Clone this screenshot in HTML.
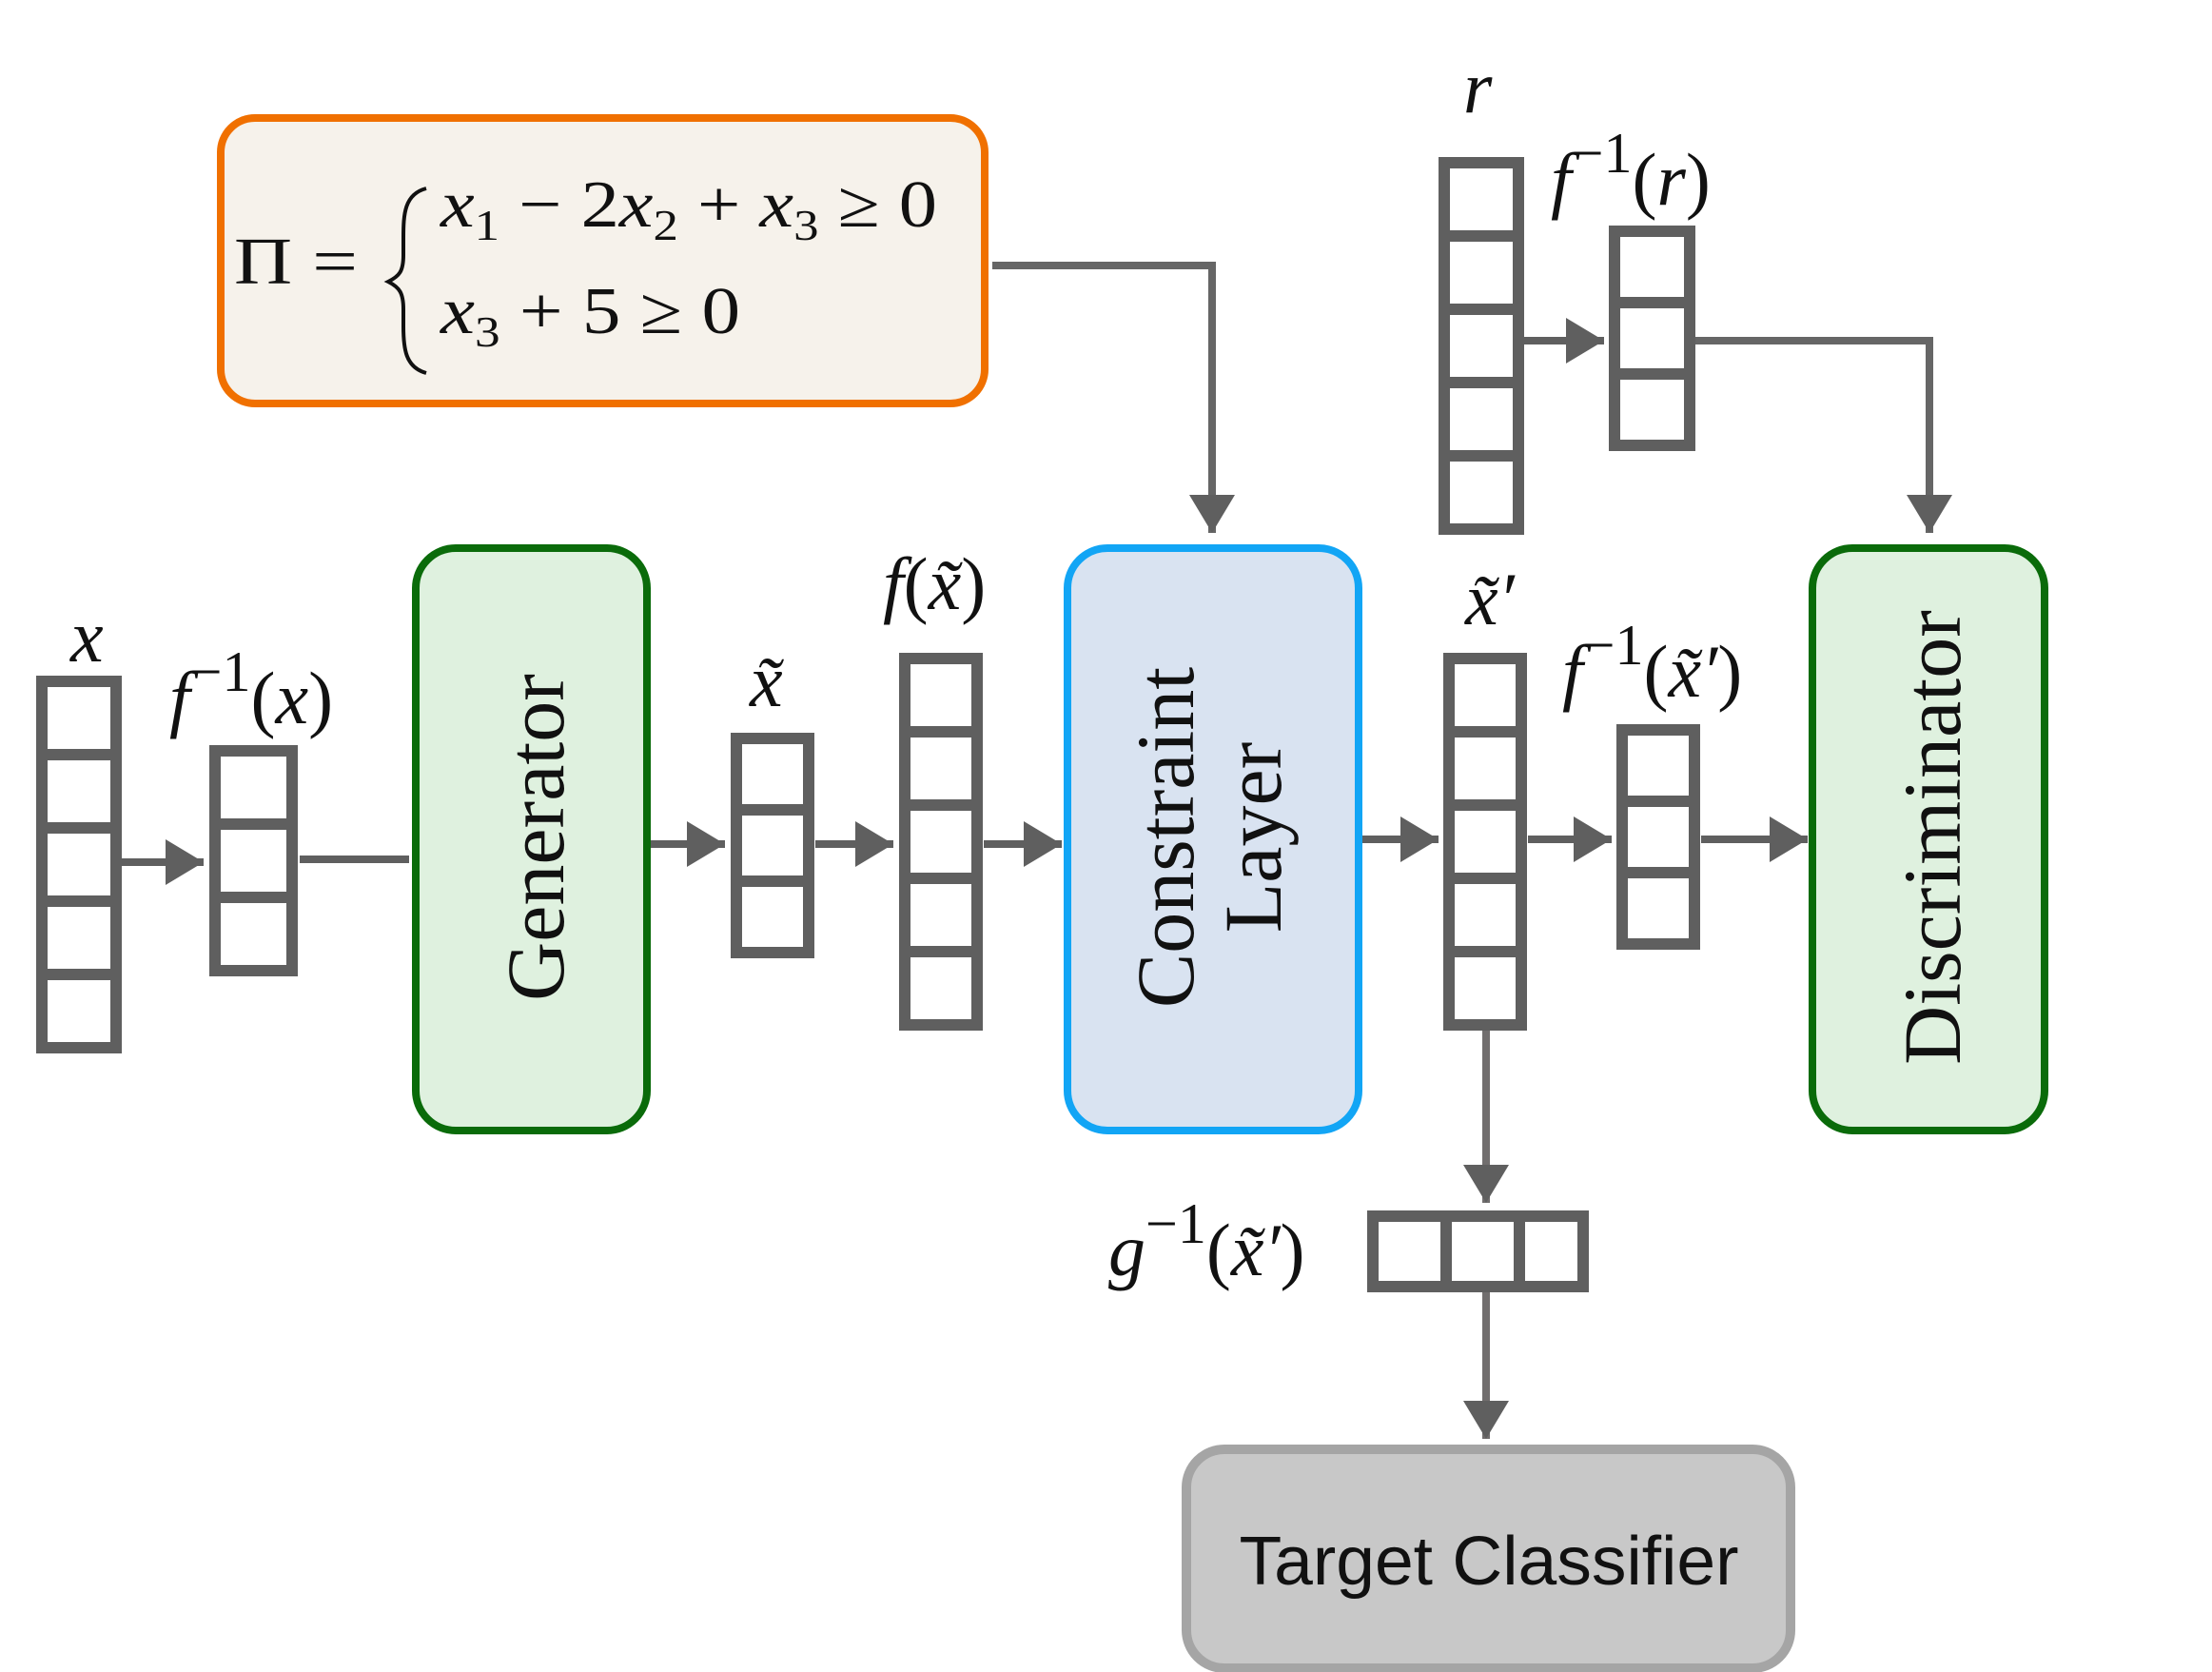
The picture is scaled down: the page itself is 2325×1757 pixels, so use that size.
<!DOCTYPE html>
<html><head><meta charset="utf-8"><style>
html,body{margin:0;padding:0;background:#fff;}
svg{display:block;}
text{font-family:"Liberation Serif",serif;}
</style></head><body>
<svg width="2325" height="1757" viewBox="0 0 2325 1757" xmlns="http://www.w3.org/2000/svg">
<defs>
<marker id="ah" markerWidth="6" markerHeight="6" refX="5" refY="3" orient="auto" markerUnits="strokeWidth">
<path d="M0,0 L5,3 L0,6 z" fill="#5f5f5f"/>
</marker>
</defs>
<g fill="none" stroke="#5f5f5f" stroke-width="8">
<line x1="128" y1="906" x2="214" y2="906" marker-end="url(#ah)"/>
<line x1="315" y1="903" x2="430" y2="903"/>
<line x1="682" y1="887" x2="762" y2="887" marker-end="url(#ah)"/>
<line x1="857" y1="887" x2="939" y2="887" marker-end="url(#ah)"/>
<line x1="1034" y1="887" x2="1116" y2="887" marker-end="url(#ah)"/>
<line x1="1432" y1="882" x2="1512" y2="882" marker-end="url(#ah)"/>
<line x1="1606" y1="882" x2="1694" y2="882" marker-end="url(#ah)"/>
<line x1="1788" y1="882" x2="1900" y2="882" marker-end="url(#ah)"/>
<line x1="1602" y1="358" x2="1686" y2="358" marker-end="url(#ah)"/>
<polyline points="1782,358 2028,358 2028,560" marker-end="url(#ah)" stroke="#666"/>
<polyline points="1043,279 1274,279 1274,560" marker-end="url(#ah)" stroke="#666"/>
<line x1="1562" y1="1075" x2="1562" y2="1264" marker-end="url(#ah)" stroke="#716e6e"/>
<line x1="1562" y1="1358" x2="1562" y2="1512" marker-end="url(#ah)" stroke="#716e6e"/>
</g>
<rect x="232" y="124" width="803" height="300" rx="36" fill="#f6f2eb" stroke="#f07000" stroke-width="8"/>
<rect x="437" y="576" width="243" height="612" rx="42" fill="#dff1df" stroke="#0a6b0a" stroke-width="8"/>
<rect x="1122" y="576" width="306" height="612" rx="42" fill="#d9e3f1" stroke="#12a5f5" stroke-width="8"/>
<rect x="1905" y="576" width="244" height="612" rx="42" fill="#dff1df" stroke="#0a6b0a" stroke-width="8"/>
<rect x="1247" y="1523" width="635" height="230" rx="40" fill="#c8c8c8" stroke="#a5a5a5" stroke-width="10"/>
<g fill="#fff" stroke="#5f5f5f" stroke-width="12">
<rect x="44" y="716" width="78" height="77"/><rect x="44" y="793" width="78" height="77"/><rect x="44" y="870" width="78" height="77"/><rect x="44" y="947" width="78" height="77"/><rect x="44" y="1024" width="78" height="77"/>
<rect x="226" y="789" width="81" height="77"/><rect x="226" y="866" width="81" height="77"/><rect x="226" y="943" width="81" height="77"/>
<rect x="774" y="776" width="76" height="75"/><rect x="774" y="851" width="76" height="75"/><rect x="774" y="926" width="76" height="75"/>
<rect x="951" y="692" width="76" height="77"/><rect x="951" y="769" width="76" height="77"/><rect x="951" y="846" width="76" height="77"/><rect x="951" y="923" width="76" height="77"/><rect x="951" y="1000" width="76" height="77"/>
<rect x="1523" y="692" width="76" height="77"/><rect x="1523" y="769" width="76" height="77"/><rect x="1523" y="846" width="76" height="77"/><rect x="1523" y="923" width="76" height="77"/><rect x="1523" y="1000" width="76" height="77"/>
<rect x="1705" y="767" width="76" height="75"/><rect x="1705" y="842" width="76" height="75"/><rect x="1705" y="917" width="76" height="75"/>
<rect x="1518" y="171" width="78" height="77"/><rect x="1518" y="248" width="78" height="77"/><rect x="1518" y="325" width="78" height="77"/><rect x="1518" y="402" width="78" height="77"/><rect x="1518" y="479" width="78" height="77"/>
<rect x="1697" y="243" width="79" height="75"/><rect x="1697" y="318" width="79" height="75"/><rect x="1697" y="393" width="79" height="75"/>
<rect x="1443" y="1278" width="77" height="74"/><rect x="1520" y="1278" width="77" height="74"/><rect x="1597" y="1278" width="67" height="74"/>
</g>
<!-- equation -->
<path d="M448,198 C425,204 424,225 424,250 L424,268 C424,285 420,290 408,296 C420,302 424,308 424,325 L424,343 C424,366 426,386 448,392" fill="none" stroke="#111" stroke-width="4"/>
<g font-size="70" fill="#111">
<text x="246" y="298" textLength="130" lengthAdjust="spacingAndGlyphs">Π =</text>
<text x="463" y="238" textLength="522" lengthAdjust="spacingAndGlyphs"><tspan font-style="italic">x</tspan><tspan font-size="46" dy="14">1</tspan><tspan dy="-14"> − 2</tspan><tspan font-style="italic">x</tspan><tspan font-size="46" dy="14">2</tspan><tspan dy="-14"> + </tspan><tspan font-style="italic">x</tspan><tspan font-size="46" dy="14">3</tspan><tspan dy="-14"> ≥ 0</tspan></text>
<text x="463" y="350" textLength="315" lengthAdjust="spacingAndGlyphs"><tspan font-style="italic">x</tspan><tspan font-size="46" dy="14">3</tspan><tspan dy="-14"> + 5 ≥ 0</tspan></text>
</g>
<g font-size="78" fill="#111" font-style="italic">
<text x="74" y="695">x</text>
<text x="178" y="760">f<tspan font-style="normal" font-size="60" dy="-34">−1</tspan><tspan font-style="normal" dy="34">(</tspan>x<tspan font-style="normal">)</tspan></text>
<text x="788" y="742">x̃</text>
<text x="928" y="640">f<tspan font-style="normal">(</tspan>x̃<tspan font-style="normal">)</tspan></text>
<text x="1538" y="118">r</text>
<text x="1630" y="215">f<tspan font-style="normal" font-size="60" dy="-34">−1</tspan><tspan font-style="normal" dy="34">(</tspan>r<tspan font-style="normal">)</tspan></text>
<text x="1540" y="656">x̃′</text>
<text x="1642" y="732">f<tspan font-style="normal" font-size="60" dy="-34">−1</tspan><tspan font-style="normal" dy="34">(</tspan>x̃′<tspan font-style="normal">)</tspan></text>
<text x="1165" y="1340">g<tspan font-style="normal" font-size="60" dy="-34">−1</tspan><tspan font-style="normal" dy="34">(</tspan>x̃′<tspan font-style="normal">)</tspan></text>
</g>
<g font-size="86" fill="#111" text-anchor="middle">
<text transform="translate(592,880) rotate(-90)">Generator</text>
<text transform="translate(1254,880) rotate(-90)">Constraint</text>
<text transform="translate(1346,880) rotate(-90)">Layer</text>
<text transform="translate(2060,880) rotate(-90)">Discriminator</text>
</g>
<text x="1565" y="1665" font-size="72" text-anchor="middle" fill="#111" style="font-family:'Liberation Sans',sans-serif" textLength="525" lengthAdjust="spacingAndGlyphs">Target Classifier</text>
</svg>
</body></html>
